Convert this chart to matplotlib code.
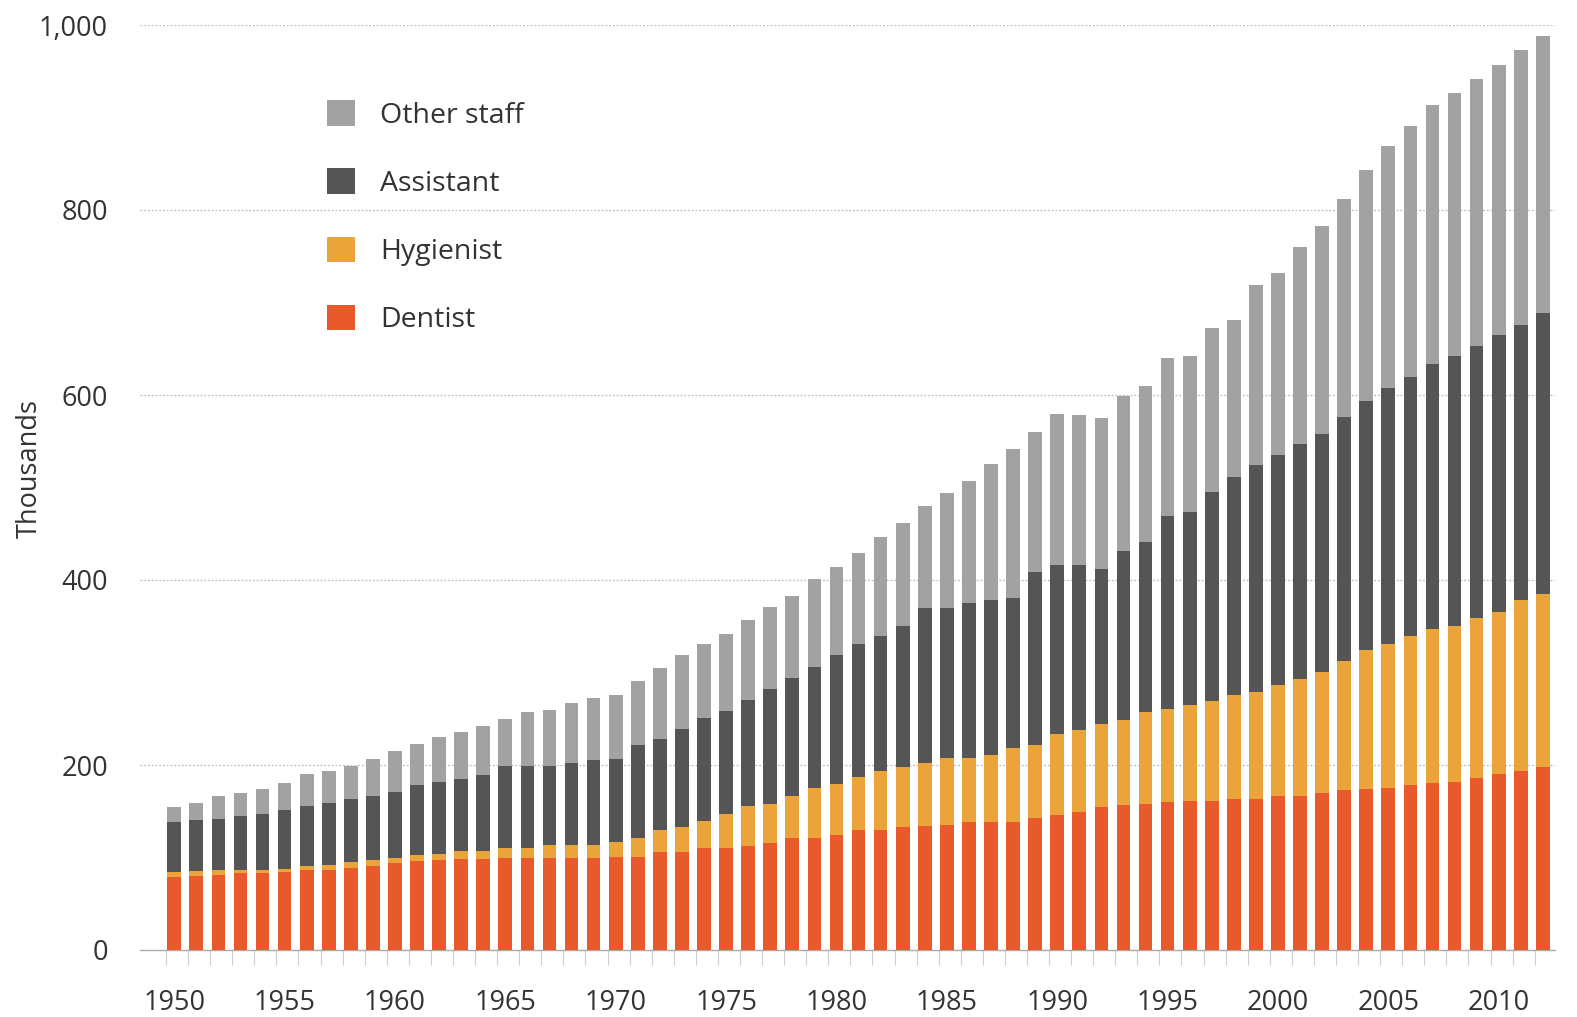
import matplotlib
matplotlib.use("Agg")
import matplotlib.pyplot as plt
import numpy as np

# dental workforce, thousands
years = list(range(1950, 2013))
dentist = [79, 80, 81, 83, 83, 84, 86, 86, 89, 91,
           94, 96, 97, 98, 98, 100, 100, 99, 99, 99,
           101, 101, 106, 106, 110, 110, 112, 116, 121, 121,
           124, 130, 130, 133, 134, 135, 138, 138, 138, 143,
           146, 149, 155, 157, 158, 160, 161, 161, 163, 163,
           166, 167, 170, 173, 174, 175, 178, 181, 182, 186,
           190, 193, 198]
hygienist = [5, 5, 5, 4, 4, 4, 5, 6, 6, 6,
             6, 7, 7, 9, 9, 10, 10, 14, 14, 15,
             16, 20, 24, 27, 30, 37, 44, 42, 46, 54,
             55, 57, 64, 65, 68, 73, 70, 73, 80, 79,
             87, 89, 89, 92, 99, 101, 104, 108, 113, 116,
             121, 126, 131, 139, 150, 156, 161, 166, 168, 173,
             175, 185, 187]
assistant = [54, 56, 56, 58, 60, 63, 65, 67, 68, 70,
             71, 75, 78, 78, 82, 89, 89, 86, 89, 91,
             90, 101, 98, 106, 111, 111, 114, 124, 127, 131,
             140, 144, 145, 152, 168, 162, 167, 167, 163, 187,
             183, 178, 168, 182, 184, 208, 208, 226, 235, 245,
             248, 254, 257, 264, 269, 277, 281, 286, 292, 294,
             300, 298, 304]
other_staff = [17, 18, 25, 25, 27, 30, 34, 35, 36, 40,
               44, 45, 48, 51, 53, 51, 58, 61, 65, 67,
               69, 69, 77, 80, 80, 84, 87, 89, 89, 95,
               95, 98, 107, 112, 110, 124, 132, 147, 161, 151,
               163, 162, 163, 168, 169, 171, 169, 177, 170, 195,
               197, 213, 225, 236, 250, 261, 271, 281, 285, 289,
               292, 297, 299]
labels = ["Dentist", "Hygienist", "Assistant", "Other staff"]
colors = ["#e85a2c", "#eba43a", "#555555", "#a2a2a2"]

plt.rcParams["font.family"] = ["Open Sans", "DejaVu Sans"]
text_color = "#333333"

fig = plt.figure(figsize=(15.77, 10.17), dpi=100)
ax = fig.add_axes([140 / 1577, 1 - 950 / 1017, (1555 - 140) / 1577, (950 - 25) / 1017])

x = np.array(years)
bottom = np.zeros(len(years))
bars = []
for vals, lab, col in zip([dentist, hygienist, assistant, other_staff], labels, colors):
    b = ax.bar(x, vals, width=0.62, bottom=bottom, color=col, label=lab, zorder=3)
    bars.append(b)
    bottom = bottom + np.array(vals)

ax.set_ylim(0, 1000)
ax.set_xlim(1948.45, 2012.55)

ax.set_yticks([0, 200, 400, 600, 800, 1000])
ax.set_yticklabels(["0", "200", "400", "600", "800", "1,000"])
for yv in [200, 400, 600, 800, 1000]:
    ax.axhline(yv, color="#bbbbbb", lw=0.9, ls=(0, (1.5, 1.5)), zorder=1)

ax.set_xticks(list(range(1950, 2011, 5)))
ax.set_xticks([y - 0.37 for y in years], minor=True)
ax.tick_params(axis="x", which="major", length=0, pad=28, labelsize=19.5, labelcolor=text_color)
ax.tick_params(axis="x", which="minor", length=11, width=0.8, color="#c9ced6")
ax.tick_params(axis="y", length=0, pad=23, labelsize=19.5, labelcolor=text_color)

for s in ["top", "right", "left"]:
    ax.spines[s].set_visible(False)
ax.spines["bottom"].set_color("#aaaaaa")
ax.spines["bottom"].set_linewidth(1.0)

fig.text(30 / 1577, 1 - 468 / 1017, "Thousands", rotation=90, fontsize=19.5,
         color=text_color, ha="center", va="center")

handles = bars[::-1]
leg = ax.legend(handles, labels[::-1], loc="upper left", bbox_to_anchor=(0.124, 0.931),
                frameon=False, fontsize=20.5, handlelength=1.0, handleheight=1.0,
                handletextpad=0.88, labelspacing=1.36, borderaxespad=0)
for t in leg.get_texts():
    t.set_color(text_color)

fig.savefig("out.png", dpi=100, facecolor="white")
